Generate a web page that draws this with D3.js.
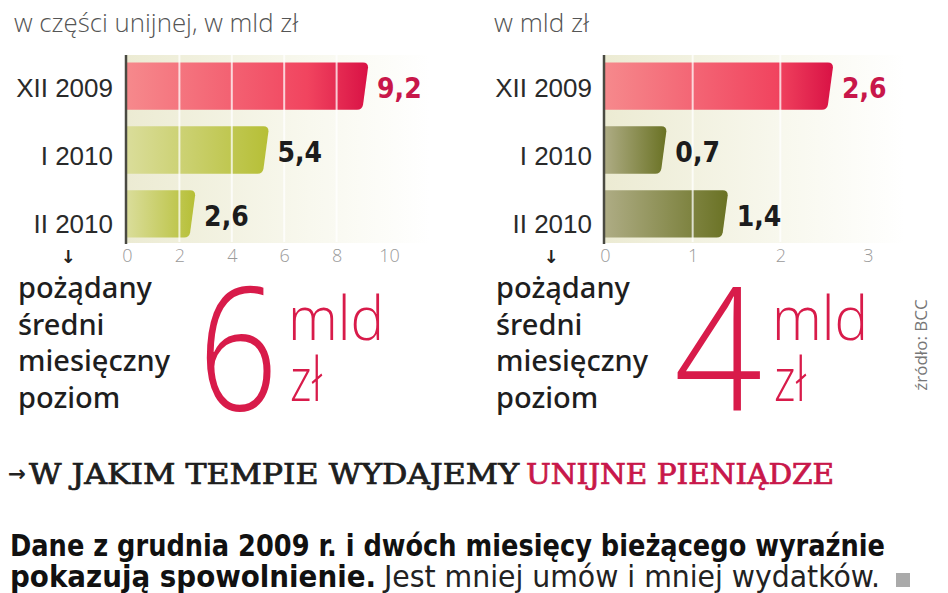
<!DOCTYPE html>
<html>
<head>
<meta charset="utf-8">
<script src="https://cdn.jsdelivr.net/npm/d3@7"></script>
<style>
  body { margin: 0; background: #fff; }
  svg { display: block; }
</style>
</head>
<body>
<svg id="chart" width="948" height="593"></svg>
<script>
// data
const categories = ["XII 2009", "I 2010", "II 2010"];
const valuesLeft = [9.2, 5.4, 2.6];
const valuesRight = [2.6, 0.7, 1.4];
const ticksLeft = [0, 2, 4, 6, 8, 10];
const ticksRight = [0, 1, 2, 3];
const labelsLeft = ["9,2", "5,4", "2,6"];
const labelsRight = ["2,6", "0,7", "1,4"];

const svg = d3.select("#chart");
const defs = svg.append("defs");

const RED = "#d81b4a";
const sans = "'Liberation Sans', Arial, sans-serif";
const cond = "'DejaVu Sans Condensed', 'Liberation Sans Narrow', sans-serif";
const light = "'Open Sans', 'Lato', sans-serif";

const addGrad = (id, stops) => {
  const g = defs.append("linearGradient").attr("id", id)
    .attr("x1", 0).attr("x2", 1).attr("y1", 0).attr("y2", 0);
  stops.forEach(([o, c]) => g.append("stop").attr("offset", o).attr("stop-color", c));
};
addGrad("gRed", [[0, "#f6898c"], [0.75, "#f1445f"], [1, "#d91245"]]);
addGrad("gLime", [[0, "#dadd9a"], [1, "#b6bf36"]]);
addGrad("gOlive", [[0, "#aeac84"], [1, "#6a7224"]]);
addGrad("gBand", [[0, "#ecebd3"], [0.6, "#f8f8ee"], [1, "#ffffff"]]);

const y = d3.scaleBand().domain(categories).range([56, 244])
  .paddingInner(0.26).paddingOuter(0.1);

// bar with slanted, rounded right end
const barPath = (x0, x1, y0, h) => {
  const s = 6, r = 5, y1 = y0 + h;
  return `M${x0},${y0} L${x1 - r},${y0} Q${x1},${y0} ${x1},${y0 + r}
    L${x1 - s + 1},${y1 - r} Q${x1 - s},${y1} ${x1 - s - r},${y1} L${x0},${y1} Z`;
};

function drawPanel({ values, labels, ticks, range, labelEnd, bandEnd, greenFill, arrowX }) {
  const x = d3.scaleLinear().domain([0, ticks[ticks.length - 1]]).range(range);
  const g = svg.append("g");

  g.append("rect")
    .attr("x", x(0)).attr("y", 55)
    .attr("width", bandEnd - x(0)).attr("height", 188)
    .attr("fill", "url(#gBand)");

  g.selectAll(".bar")
    .data(values)
    .enter()
    .append("path")
    .attr("class", "bar")
    .attr("d", (d, i) => barPath(x(0), x(d), y(categories[i]), y.bandwidth()))
    .attr("fill", (d, i) => (i === 0 ? "url(#gRed)" : greenFill));

  // white grid lines over the band
  g.selectAll(".grid")
    .data(ticks.slice(1, -1))
    .enter()
    .append("line")
    .attr("x1", (d) => x(d)).attr("x2", (d) => x(d))
    .attr("y1", 55).attr("y2", 242)
    .attr("stroke", "#fff").attr("stroke-opacity", 0.75)
    .attr("stroke-width", 2);

  g.append("line")
    .attr("x1", x(0) - 1).attr("x2", x(0) - 1)
    .attr("y1", 55).attr("y2", 244)
    .attr("stroke", "#4a4a42").attr("stroke-width", 2.5);

  const axis = d3.axisBottom(x).tickValues(ticks).tickSize(0).tickPadding(0)
    .tickFormat(d3.format("d"));
  const ax = g.append("g").attr("transform", "translate(0,246)").call(axis);
  ax.select(".domain").remove();
  ax.selectAll("text")
    .attr("font-family", light).attr("font-size", 18).attr("font-weight", 300)
    .attr("fill", "#9a9a9a").attr("dy", "0.9em");

  g.selectAll(".cat")
    .data(categories)
    .enter()
    .append("text")
    .attr("x", labelEnd)
    .attr("y", (d, i) => y(d) + y.bandwidth() / 2 + 2 + i * 4)
    .attr("dy", "0.36em")
    .attr("text-anchor", "end")
    .attr("font-family", sans).attr("font-size", 26)
    .attr("fill", "#2a2a2a")
    .text((d) => d);

  g.selectAll(".val")
    .data(values)
    .enter()
    .append("text")
    .attr("x", (d) => x(d) + 9)
    .attr("y", (d, i) => y(categories[i]) + y.bandwidth() / 2 + 2)
    .attr("dy", "0.36em")
    .attr("font-family", cond)
    .attr("font-weight", "bold").attr("font-size", 28)
    .attr("fill", (d, i) => (i === 0 ? "#c8174a" : "#1c1c1c"))
    .text((d, i) => labels[i]);

  g.append("text")
    .attr("x", arrowX).attr("y", 263)
    .attr("text-anchor", "middle")
    .attr("font-family", "'DejaVu Sans', sans-serif").attr("font-weight", "bold")
    .attr("font-size", 18).attr("fill", "#222")
    .text("↓");
}

drawPanel({
  values: valuesLeft, labels: labelsLeft, ticks: ticksLeft,
  range: [127, 389], labelEnd: 113, bandEnd: 430,
  greenFill: "url(#gLime)", arrowX: 68,
});
drawPanel({
  values: valuesRight, labels: labelsRight, ticks: ticksRight,
  range: [605, 868], labelEnd: 592, bandEnd: 905,
  greenFill: "url(#gOlive)", arrowX: 551,
});

// subtitles
svg.append("text").attr("x", 14).attr("y", 32)
  .attr("font-family", light).attr("font-weight", 300).attr("font-size", 25)
  .attr("fill", "#555").attr("textLength", 284).attr("lengthAdjust", "spacingAndGlyphs")
  .text("w części unijnej, w mld zł");
svg.append("text").attr("x", 494).attr("y", 32)
  .attr("font-family", light).attr("font-weight", 300).attr("font-size", 25)
  .attr("fill", "#555").attr("textLength", 95).attr("lengthAdjust", "spacingAndGlyphs")
  .text("w mld zł");

// desired monthly level blocks
const targets = [
  { x: 18, big: "6", bigX: 198, bigW: 80, unitX: 288 },
  { x: 496, big: "4", bigX: 674, bigW: 88, unitX: 772 },
];
const descLines = ["pożądany", "średni", "miesięczny", "poziom"];
targets.forEach((t) => {
  svg.selectAll(null)
    .data(descLines)
    .enter()
    .append("text")
    .attr("x", t.x)
    .attr("y", (d, i) => 298 + i * 36.5)
    .attr("font-family", "'Noto Sans', sans-serif").attr("font-weight", 500)
    .attr("font-size", 29).attr("fill", "#1e1e1e")
    .text((d) => d);
  svg.append("text")
    .attr("x", t.bigX).attr("y", 410)
    .attr("font-family", light).attr("font-weight", 300)
    .attr("font-size", 172).attr("fill", RED)
    .attr("textLength", t.bigW).attr("lengthAdjust", "spacingAndGlyphs")
    .text(t.big);
  svg.append("text")
    .attr("x", t.unitX).attr("y", 340)
    .attr("font-family", light).attr("font-weight", 300)
    .attr("font-size", 60).attr("fill", RED)
    .attr("textLength", 96).attr("lengthAdjust", "spacingAndGlyphs")
    .text("mld");
  svg.append("text")
    .attr("x", t.unitX + 2).attr("y", 401)
    .attr("font-family", light).attr("font-weight", 300)
    .attr("font-size", 60).attr("fill", RED)
    .attr("textLength", 32).attr("lengthAdjust", "spacingAndGlyphs")
    .text("zł");
});

svg.append("text")
  .attr("transform", "translate(927,345) rotate(-90)")
  .attr("text-anchor", "middle")
  .attr("font-family", light).attr("font-size", 17).attr("fill", "#777")
  .text("źródło: BCC");

// headline
const serif = "'DejaVu Serif Condensed', 'DejaVu Serif', serif";
svg.append("text").attr("x", 8).attr("y", 481)
  .attr("font-family", "'DejaVu Sans', sans-serif").attr("font-size", 22)
  .attr("font-weight", "bold").attr("fill", "#222")
  .attr("textLength", 18).attr("lengthAdjust", "spacingAndGlyphs")
  .text("→");
svg.append("text").attr("x", 29).attr("y", 484)
  .attr("font-family", serif).attr("font-size", 27)
  .attr("fill", "#1e1e1e").attr("stroke", "#1e1e1e").attr("stroke-width", 0.7)
  .attr("textLength", 490).attr("lengthAdjust", "spacingAndGlyphs")
  .text("W JAKIM TEMPIE WYDAJEMY");
svg.append("text").attr("x", 526).attr("y", 484)
  .attr("font-family", serif).attr("font-size", 27)
  .attr("fill", "#c8174a").attr("stroke", "#c8174a").attr("stroke-width", 0.7)
  .attr("textLength", 308).attr("lengthAdjust", "spacingAndGlyphs")
  .text("UNIJNE PIENIĄDZE");

// lead text
svg.append("text").attr("x", 10).attr("y", 556)
  .attr("font-family", cond).attr("font-weight", "bold").attr("font-size", 31)
  .attr("fill", "#111").attr("textLength", 875).attr("lengthAdjust", "spacingAndGlyphs")
  .text("Dane z grudnia 2009 r. i dwóch miesięcy bieżącego wyraźnie");
svg.append("text").attr("x", 10).attr("y", 587)
  .attr("font-family", cond).attr("font-weight", "bold").attr("font-size", 31)
  .attr("fill", "#111").attr("textLength", 366).attr("lengthAdjust", "spacingAndGlyphs")
  .text("pokazują spowolnienie.");
svg.append("text").attr("x", 384).attr("y", 587)
  .attr("font-family", cond).attr("font-size", 31)
  .attr("fill", "#222").attr("textLength", 496).attr("lengthAdjust", "spacingAndGlyphs")
  .text("Jest mniej umów i mniej wydatków.");
svg.append("rect").attr("x", 896).attr("y", 573).attr("width", 14).attr("height", 14)
  .attr("fill", "#aaa");
</script>
</body>
</html>
